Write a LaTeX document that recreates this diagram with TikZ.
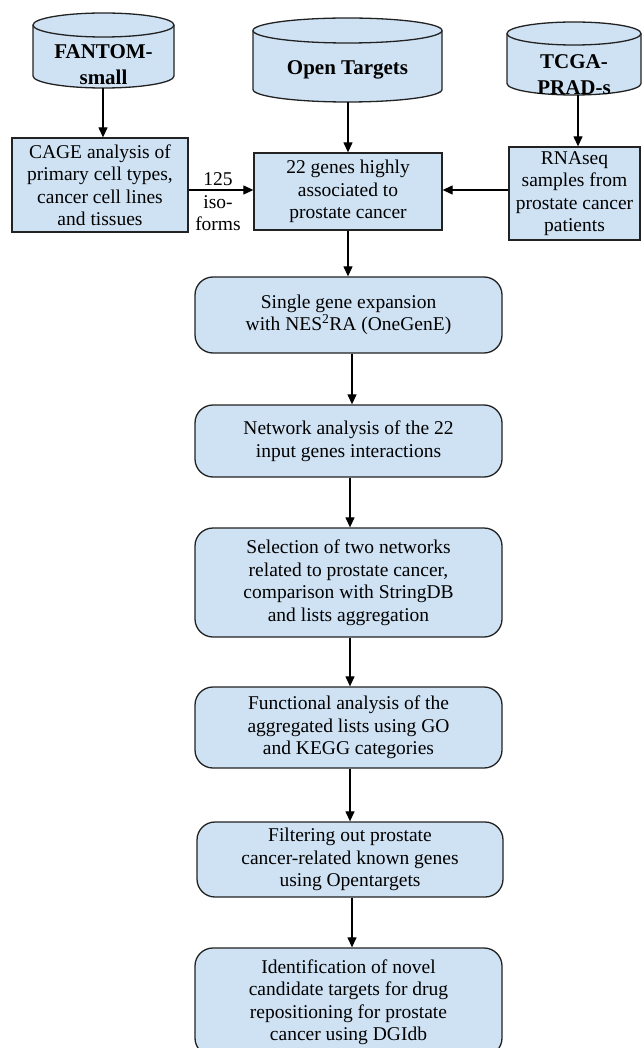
\documentclass[tikz,border=0pt]{standalone}
\usepackage{fontspec}
\setmainfont{Liberation Serif}
\usetikzlibrary{arrows.meta}
\definecolor{boxblue}{HTML}{CFE2F3}
\definecolor{edgecol}{HTML}{222222}
\begin{document}
\begin{tikzpicture}[x=1pt,y=1pt,
  txt/.style={font=\fontsize{19.5}{22.5}\selectfont, align=center, text=black},
  rectbox/.style={draw=edgecol, line width=1.3pt, fill=boxblue, txt, inner sep=0pt},
  roundbox/.style={rectbox, rounded corners=18pt},
  cyl/.style={draw=edgecol, line width=1.3pt, fill=boxblue},
  dbtxt/.style={font=\bfseries\fontsize{21}{26}\selectfont, align=center, text=black},
  arr/.style={draw=black, line width=1.2pt, -{Triangle[length=10pt,width=9pt]}},
]
\useasboundingbox (0,0) rectangle (641,-1048);
\fill[white] (0,0) rectangle (641,-1048);

% cylinders
\path[cyl] (33,-25) -- (33,-76) arc[start angle=180,end angle=360,x radius=70.5,y radius=12] -- (174,-25) arc[start angle=0,end angle=180,x radius=70.5,y radius=12] -- cycle;
\draw[cyl, fill=none] (33,-25) arc[start angle=180,end angle=360,x radius=70.5,y radius=12];
\path[cyl] (253,-30.5) -- (253,-89.5) arc[start angle=180,end angle=360,x radius=94.5,y radius=12.5] -- (442,-30.5) arc[start angle=0,end angle=180,x radius=94.5,y radius=12.5] -- cycle;
\draw[cyl, fill=none] (253,-30.5) arc[start angle=180,end angle=360,x radius=94.5,y radius=12.5];
\path[cyl] (507,-33.5) -- (507,-83.5) arc[start angle=180,end angle=360,x radius=67,y radius=11.5] -- (641,-33.5) arc[start angle=0,end angle=180,x radius=67,y radius=11.5] -- cycle;
\draw[cyl, fill=none] (507,-33.5) arc[start angle=180,end angle=360,x radius=67,y radius=11.5];

\node[dbtxt] (fantom) at (103.5,-65) {FANTOM-\\small};
\node[dbtxt] (ot) at (347.5,-70) {Open Targets};
\node[dbtxt] (tcga) at (574,-74.5) {TCGA-\\PRAD-s};
\coordinate (fanb) at (103,-88);
\coordinate (otb) at (348,-102);
\coordinate (tcgab) at (578,-95);

% top boxes
\node[rectbox, minimum width=176pt, minimum height=94pt] (cage) at (100,-185) {CAGE analysis of\\primary cell types,\\cancer cell lines\\and tissues};
\node[rectbox, minimum width=188pt, minimum height=77pt] (genes) at (348,-191.5) {22 genes highly\\associated to\\prostate cancer};
\node[rectbox, minimum width=131pt, minimum height=93pt] (rna) at (574.5,-193.5) {RNAseq\\samples from\\prostate cancer\\patients};
\node[txt] (iso) at (218,-202) {125\\iso-\\forms};

% pipeline
\node[roundbox, minimum width=307pt, minimum height=76pt] (single) at (348.5,-315) {Single gene expansion\\with NES\textsuperscript{2}RA (OneGenE)};
\node[roundbox, minimum width=307pt, minimum height=72pt] (network) at (348.5,-441) {Network analysis of the 22\\input genes interactions};
\node[roundbox, minimum width=307pt, minimum height=109pt] (select) at (348.5,-582.5) {Selection of two networks\\related to prostate cancer,\\comparison with StringDB\\and lists aggregation};
\node[roundbox, minimum width=307pt, minimum height=81pt] (func) at (348.5,-727.5) {Functional analysis of the\\aggregated lists using GO\\and KEGG categories};
\node[roundbox, minimum width=306pt, minimum height=75pt] (filter) at (350,-859.5) {Filtering out prostate\\cancer-related known genes\\using Opentargets};
\node[roundbox, minimum width=307pt, minimum height=108pt] (ident) at (348.5,-1002) {Identification of novel\\candidate targets for drug\\repositioning for prostate\\cancer using DGIdb};

% connectors
\draw[arr] (fanb) -- (fanb |- cage.north);
\draw[arr] (otb) -- (otb |- genes.north);
\draw[arr] (tcgab) -- (tcgab |- rna.north);
\draw[arr] (cage.east |- 0,-190) -- (genes.west |- 0,-190);
\draw[arr] (rna.west |- 0,-190) -- (genes.east |- 0,-190);
\draw[arr] (348,0 |- genes.south) -- (348,0 |- single.north);
\draw[arr] (352,0 |- single.south) -- (352,0 |- network.north);
\draw[arr] (350,0 |- network.south) -- (350,0 |- select.north);
\draw[arr] (350,0 |- select.south) -- (350,0 |- func.north);
\draw[arr] (350,0 |- func.south) -- (350,0 |- filter.north);
\draw[arr] (352,0 |- filter.south) -- (352,0 |- ident.north);
\end{tikzpicture}
\end{document}
